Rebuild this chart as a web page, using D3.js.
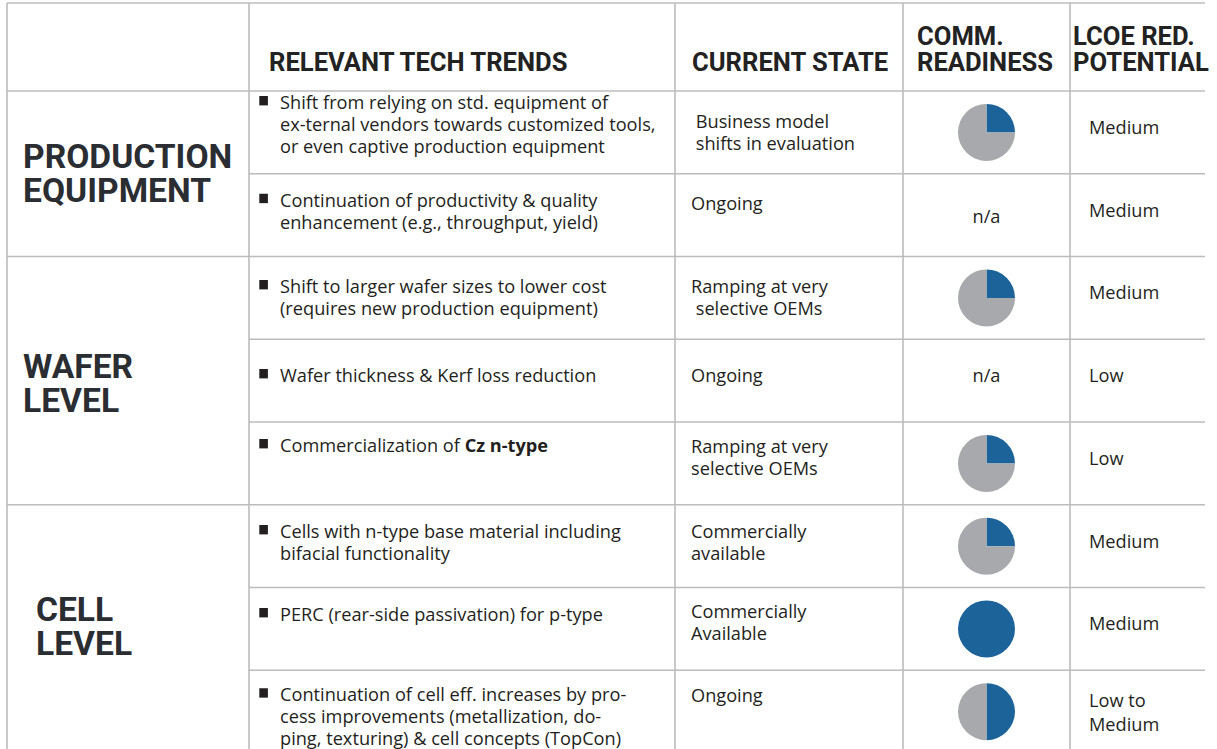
<!DOCTYPE html>
<html><head><meta charset="utf-8">
<script src="https://cdn.jsdelivr.net/npm/d3@7"></script>
<style>
body{margin:0;background:#fff}
svg text{white-space:pre}
</style>
</head><body>
<svg id="chart" width="1217" height="749"></svg>
<script>
// ---------- DATA ----------
const headers = [["RELEVANT TECH TRENDS"], ["CURRENT STATE"], ["COMM.", "READINESS"], ["LCOE RED.", "POTENTIAL"]];
const groups = [["PRODUCTION", "EQUIPMENT"], ["WAFER", "LEVEL"], ["CELL", "LEVEL"]];
const groupRows = [2, 3, 3];
const trends = [
  ["Shift from relying on std. equipment of", "ex-ternal vendors towards customized tools,", "or even captive production equipment"],
  ["Continuation of productivity & quality", "enhancement (e.g., throughput, yield)"],
  ["Shift to larger wafer sizes to lower cost", "(requires new production equipment)"],
  ["Wafer thickness & Kerf loss reduction"],
  ["Commercialization of **Cz n-type**"],
  ["Cells with n-type base material including", "bifacial functionality"],
  ["PERC (rear-side passivation) for p-type"],
  ["Continuation of cell eff. increases by pro-", "cess improvements (metallization, do-", "ping, texturing) & cell concepts (TopCon)"]
];
const states = [
  [" Business model", " shifts in evaluation"],
  ["Ongoing"],
  ["Ramping at very", " selective OEMs"],
  ["Ongoing"],
  ["Ramping at very", "selective OEMs"],
  ["Commercially", "available"],
  ["Commercially", "Available"],
  ["Ongoing"]
];
const readiness = [0.25, null, 0.25, null, 0.25, 0.25, 1, 0.5];
const lcoe = [["Medium"], ["Medium"], ["Medium"], ["Low"], ["Low"], ["Medium"], ["Medium"], ["Low to", "Medium"]];

// ---------- LAYOUT ----------
const W = 1217, H = 749;
const colX = [7, 249, 675, 903, 1070];
const rightX = 1205;
const topY = 3, headBottom = 91, rowH = 82.75;
const nRows = trends.length;
const y = d3.scaleLinear().domain([0, nRows]).range([headBottom, headBottom + rowH * nRows]);
const trendOff = [13, 28, 31.5, 37.75, 25, 28.25, 28.5, 26];
const trendLH = [21.8, 22.3, 22.3, 22.3, 22.3, 22.3, 22.3, 22];
const stateOff = [32, 31, 31.5, 37.75, 26, 28.25, 25.5, 26.5];
const stateLH = [21.8, 22.5, 22.5, 22.5, 22.5, 22.5, 22.5, 22.5];
const naOff = [44, 44, 44, 37.75, 44, 44, 44, 44];
const xh = 4.9;  // half x-height, to turn a line centre into a baseline
const bodyFont = "'Open Sans', 'Noto Sans', sans-serif";
const bodySize = 18.2;
const headFont = "Roboto, 'Liberation Sans', sans-serif";
const textColor = "#231f20";
const gridColor = "#bcbcbc";
const blue = "#1b6399", grey = "#a7a9ac";

const svg = d3.select("#chart");

// ---------- GRID ----------
const grid = svg.append("g").attr("stroke", gridColor).attr("stroke-width", 1.6);
grid.append("line").attr("x1", colX[0]).attr("x2", rightX).attr("y1", topY).attr("y2", topY);
grid.append("line").attr("x1", colX[0]).attr("x2", rightX).attr("y1", headBottom).attr("y2", headBottom);
const groupStart = [];
{ let acc = 0; groupRows.forEach(n => { groupStart.push(acc); acc += n; }); }
d3.range(1, nRows + 1).forEach(i => {
  const full = groupStart.includes(i) || i === nRows;
  grid.append("line")
    .attr("x1", full ? colX[0] : colX[1]).attr("x2", rightX)
    .attr("y1", y(i)).attr("y2", y(i));
});
colX.forEach(x => {
  grid.append("line").attr("x1", x).attr("x2", x).attr("y1", topY).attr("y2", y(nRows));
});

// ---------- HEADERS ----------
const headTextX = [269, 692, 917, 1073];
headers.forEach((lines, c) => {
  lines.forEach((s, i) => {
    const base = 71 - (lines.length - 1 - i) * 26;
    svg.append("text")
      .attr("font-family", headFont).attr("font-weight", 700).attr("font-size", 25.6)
      .attr("fill", "#222")
      .attr("x", headTextX[c]).attr("y", base).text(s);
  });
});

// ---------- GROUP LABELS ----------
const groupIndent = [23, 23, 36];
const groupShift = [-1, 2, -3];
groups.forEach((lines, g) => {
  const y0 = y(groupStart[g]), y1 = y(groupStart[g] + groupRows[g]);
  const mid = (y0 + y1) / 2 + groupShift[g];
  const capH = 24, gap = 34;
  const blockTop = mid - (capH + gap * (lines.length - 1)) / 2;
  lines.forEach((s, i) => {
    svg.append("text")
      .attr("font-family", headFont).attr("font-weight", 700).attr("font-size", 33.6)
      .attr("fill", "#2a2d31")
      .attr("x", groupIndent[g]).attr("y", blockTop + capH + i * gap).text(s);
  });
});

// ---------- helper for rich text ----------
function addRich(parent, str) {
  str.split("**").forEach((p, k) => {
    if (!p) return;
    parent.append("tspan").attr("font-weight", k % 2 ? 700 : 400).text(p);
  });
}

// ---------- ROWS ----------
const arc = d3.arc().innerRadius(0).outerRadius(28.5);
const pie = d3.pie().sort(null).value(d => d);

trends.forEach((lines, r) => {
  const top = y(r);
  const c0 = top + trendOff[r];
  svg.append("rect").attr("x", 259.3).attr("y", c0 - 8).attr("width", 8.6).attr("height", 9.4).attr("fill", "#231f20");
  const t = svg.append("text").attr("font-family", bodyFont).attr("font-size", bodySize).attr("fill", textColor);
  lines.forEach((s, i) => {
    const ts = t.append("tspan").attr("x", 280).attr("y", c0 + i * trendLH[r] + xh);
    addRich(ts, s);
  });

  const st = svg.append("text").attr("font-family", bodyFont).attr("font-size", bodySize).attr("fill", textColor);
  states[r].forEach((s, i) => {
    st.append("tspan").attr("x", 691).attr("y", top + stateOff[r] + i * stateLH[r] + xh).text(s);
  });

  const cx = (colX[3] + colX[4]) / 2;
  if (readiness[r] == null) {
    svg.append("text").attr("font-family", bodyFont).attr("font-size", bodySize).attr("fill", textColor)
      .attr("x", cx).attr("y", top + naOff[r] + xh).attr("text-anchor", "middle").text("n/a");
  } else {
    const v = readiness[r];
    const g = svg.append("g").attr("transform", `translate(${cx},${top + rowH / 2})`);
    g.selectAll("path").data(pie([v, 1 - v])).join("path")
      .attr("d", arc).attr("fill", (d, i) => i === 0 ? blue : grey);
  }

  const lt = svg.append("text").attr("font-family", bodyFont).attr("font-size", bodySize).attr("fill", textColor);
  const n = lcoe[r].length;
  lcoe[r].forEach((s, i) => {
    const c = top + 38 + (i - (n - 1) / 2) * 24 + (n > 1 ? 5.5 : 0);
    lt.append("tspan").attr("x", 1089).attr("y", c + xh).text(s);
  });
});
</script>
</body></html>
